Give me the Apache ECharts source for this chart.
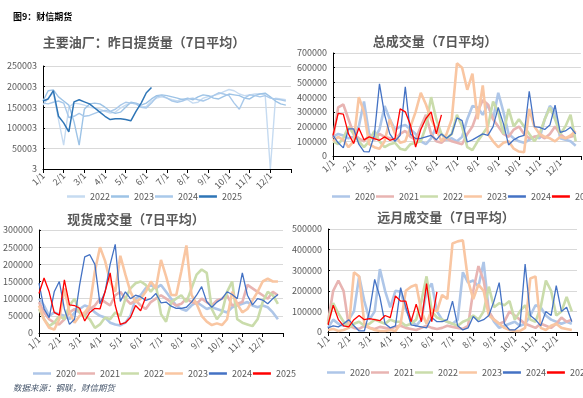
<!DOCTYPE html>
<html>
<head>
<meta charset="utf-8">
<script src="https://cdn.jsdelivr.net/npm/echarts/dist/echarts.min.js"></script>
<style>
  html, body { margin: 0; padding: 0; background: #fff; }
  .pane { position: absolute; left: 0; top: 0; width: 583px; height: 398px; }
</style>
</head>
<body>
<div id="c1" class="pane"></div>
<div id="c2" class="pane"></div>
<div id="c3" class="pane"></div>
<div id="c4" class="pane"></div>
<script>
// 横轴：月份刻度（每月4个点，约一周一个）
var monthLabels = ['1/1','2/1','3/1','4/1','5/1','6/1','7/1','8/1','9/1','10/1','11/1','12/1'];
var stepsPerMonth = 4;

// 主要油厂：昨日提货量（7日平均）
var lift2022 = [155000,172000,185000,120000,58000,150000,160000,158000,155000,150000,148000,145000,140000,136000,138000,148000,155000,160000,158000,150000,152000,165000,172000,175000,172000,168000,165000,170000,168000,160000,162000,172000,176000,178000,182000,188000,193000,190000,182000,178000,180000,182000,183000,180000,0,172000,170000,168000];
var lift2023 = [165000,190000,192000,175000,165000,155000,115000,58000,145000,158000,160000,158000,150000,140000,135000,138000,150000,162000,160000,155000,160000,170000,178000,180000,178000,175000,172000,168000,172000,168000,175000,180000,178000,172000,170000,176000,182000,180000,178000,172000,170000,178000,182000,184000,175000,165000,158000,155000];
var lift2024 = [160000,158000,162000,165000,160000,125000,128000,135000,128000,130000,135000,140000,142000,140000,145000,155000,162000,160000,158000,150000,148000,160000,175000,178000,172000,165000,162000,165000,170000,172000,168000,165000,170000,178000,185000,182000,178000,160000,145000,172000,180000,178000,175000,178000,172000,170000,168000,165000];
var lift2025 = [165000,170000,190000,128000,112000,90000,163000,168000,163000,158000,148000,138000,128000,120000,122000,122000,120000,117000,140000,160000,185000,198000];

// 总成交量（7日平均）
var tot2020 = [130000,150000,140000,120000,130000,200000,370000,150000,120000,180000,340000,250000,180000,200000,210000,180000,150000,100000,80000,120000,200000,150000,110000,120000,100000,130000,250000,340000,330000,280000,350000,250000,430000,300000,150000,120000,100000,90000,110000,130000,120000,250000,340000,300000,120000,110000,100000,70000];
var tot2021 = [120000,330000,350000,250000,150000,120000,100000,140000,110000,150000,130000,120000,110000,150000,170000,130000,110000,200000,280000,150000,100000,90000,120000,100000,90000,80000,150000,200000,300000,380000,350000,250000,200000,150000,130000,180000,200000,150000,120000,130000,140000,120000,150000,200000,150000,120000,130000,140000];
var tot2022 = [100000,80000,120000,200000,150000,100000,60000,100000,170000,100000,60000,80000,90000,50000,40000,80000,90000,100000,200000,400000,250000,150000,120000,150000,280000,200000,60000,40000,100000,150000,200000,370000,300000,150000,320000,200000,250000,200000,150000,100000,150000,250000,330000,250000,150000,200000,280000,100000];
var tot2023 = [100000,130000,110000,60000,100000,400000,300000,80000,60000,50000,100000,250000,150000,90000,100000,200000,300000,430000,350000,250000,180000,100000,150000,250000,630000,600000,450000,560000,250000,480000,150000,100000,60000,90000,100000,50000,30000,25000,320000,200000,150000,130000,120000,100000,130000,120000,140000,170000];
var tot2024 = [140000,90000,55000,185000,185000,80000,30000,28000,140000,490000,280000,150000,100000,140000,470000,150000,118000,120000,130000,140000,110000,150000,120000,150000,260000,240000,95000,110000,130000,150000,140000,200000,330000,220000,75000,110000,130000,140000,440000,200000,195000,180000,210000,345000,160000,170000,195000,150000];
var tot2025 = [140000,290000,285000,150000,85000,190000,110000,130000,118000,107000,130000,107000,118000,320000,300000,210000,60000,180000,255000,300000,150000,280000];

// 现货成交量（7日平均）
var spot2020 = [100000,80000,50000,60000,55000,50000,40000,60000,70000,80000,75000,60000,50000,45000,30000,25000,22000,30000,50000,100000,110000,130000,140000,130000,140000,120000,100000,80000,70000,65000,80000,90000,80000,70000,75000,70000,65000,60000,75000,80000,85000,90000,80000,75000,80000,75000,60000,40000];
var spot2021 = [90000,60000,40000,30000,25000,40000,60000,70000,60000,50000,70000,80000,100000,90000,80000,110000,120000,100000,85000,95000,80000,70000,90000,100000,110000,100000,90000,80000,85000,100000,90000,85000,100000,90000,80000,95000,100000,110000,80000,85000,90000,140000,130000,120000,110000,100000,120000,110000];
var spot2022 = [70000,40000,20000,30000,50000,40000,80000,100000,60000,50000,40000,15000,25000,45000,40000,60000,50000,100000,130000,145000,150000,140000,120000,140000,55000,33000,90000,100000,110000,90000,130000,170000,185000,175000,70000,40000,60000,120000,150000,40000,30000,25000,20000,40000,90000,120000,110000,85000];
var spot2023 = [80000,40000,15000,10000,40000,130000,60000,30000,50000,60000,80000,180000,250000,210000,150000,120000,225000,170000,120000,90000,100000,120000,150000,130000,213000,165000,111000,110000,180000,255000,111000,85000,50000,33000,23000,28000,23000,40000,120000,85000,60000,70000,95000,120000,150000,158000,150000,150000];
var spot2024 = [145000,70000,45000,120000,150000,70000,25000,40000,140000,222000,228000,200000,85000,120000,200000,258000,92000,120000,100000,110000,105000,95000,100000,115000,88000,90000,78000,72000,72000,75000,90000,110000,135000,91000,75000,90000,100000,120000,112000,100000,175000,110000,82000,100000,96000,85000,100000,112000];
var spot2025 = [115000,160000,120000,60000,52000,155000,82000,80000,72000,35000,60000,72000,70000,120000,175000,80000,25000,30000,45000,80000,65000,105000];

// 远月成交量（7日平均）
var far2020 = [20000,60000,40000,30000,60000,100000,270000,150000,60000,100000,305000,200000,120000,200000,195000,110000,60000,30000,60000,200000,235000,100000,60000,50000,40000,60000,290000,240000,250000,220000,340000,100000,50000,20000,30000,40000,50000,30000,40000,80000,130000,120000,80000,60000,50000,40000,50000,40000];
var far2021 = [50000,200000,250000,200000,30000,20000,15000,30000,20000,15000,25000,20000,15000,25000,30000,20000,15000,10000,20000,30000,20000,15000,20000,30000,25000,20000,15000,30000,200000,320000,250000,100000,60000,40000,50000,100000,80000,60000,40000,30000,20000,40000,30000,20000,40000,70000,50000,60000];
var far2022 = [40000,140000,90000,50000,20000,40000,50000,30000,40000,60000,50000,40000,60000,50000,50000,30000,40000,60000,150000,270000,100000,70000,60000,50000,40000,30000,50000,60000,80000,60000,100000,220000,120000,140000,130000,150000,60000,100000,130000,60000,50000,120000,250000,200000,80000,100000,170000,100000];
var far2023 = [10000,15000,5000,10000,20000,290000,270000,40000,20000,10000,5000,5000,10000,5000,40000,200000,220000,230000,100000,40000,110000,100000,180000,160000,430000,440000,445000,250000,160000,230000,200000,80000,60000,40000,20000,10000,5000,5000,20000,260000,270000,20000,10000,30000,40000,20000,15000,10000];
var far2024 = [20000,30000,25000,40000,60000,30000,5000,5000,100000,255000,170000,40000,20000,30000,215000,120000,35000,30000,25000,20000,70000,50000,50000,60000,150000,30000,10000,20000,75000,50000,60000,80000,150000,240000,40000,10000,10000,30000,330000,80000,60000,30000,100000,80000,225000,100000,120000,50000];
var far2025 = [35000,130000,60000,30000,25000,60000,80000,60000,65000,60000,55000,80000,70000,175000,150000,150000,50000,135000,50000,235000,50000,195000];

var font = 'Noto Sans CJK SC';
var grey = '#595959';
var yearColors = {'2020':'#aec6e8','2021':'#e8b4b2','2022':'#cadcab','2023':'#f9c6a2','2024':'#4472c4','2025':'#ff0000'};

function toPoints(vals) {
  return vals.map(function (v, i) { return [i / stepsPerMonth, v]; });
}

function buildPanel(p) {
  var series = p.lines.map(function (l) {
    return {
      name: l.name, type: 'line', symbol: 'none', showSymbol: false, smooth: false,
      data: toPoints(l.data),
      lineStyle: { color: l.color, width: l.width },
      itemStyle: { color: l.color }
    };
  });
  return {
    animation: false,
    textStyle: { fontFamily: font },
    grid: p.grid,
    xAxis: {
      type: 'value', min: 0, max: 12, interval: 1,
      axisLine: { lineStyle: { color: '#000', width: 1 } },
      axisTick: { length: 4, lineStyle: { color: '#000' } },
      splitLine: { show: false },
      axisLabel: {
        rotate: 45, fontSize: 9, color: grey, margin: 5, fontFamily: font,
        formatter: function (v) { return monthLabels[v] || ''; }
      }
    },
    yAxis: {
      type: 'value', min: 0, max: p.yMax, interval: p.yStep,
      axisLine: { show: true, lineStyle: { color: '#000', width: 1 } },
      axisTick: { show: true, inside: true, length: 2, lineStyle: { color: '#000' } },
      splitLine: { lineStyle: { color: '#d9d9d9' } },
      axisLabel: { fontSize: 9, color: grey, margin: 6, fontFamily: font,
                   formatter: p.yFmt || function (v) { return String(v); } }
    },
    legend: {
      left: p.legend[0], top: p.legend[1], width: 420,
      icon: 'rect', itemWidth: 18, itemHeight: 2.5, itemGap: 1,
      textStyle: { fontSize: 9, color: grey, fontFamily: font },
      data: p.lines.map(function (l) { return l.name; })
    },
    graphic: [{
      type: 'text', x: p.title[1], y: p.title[2],
      style: { text: p.title[0], align: 'center', verticalAlign: 'middle',
               font: 'bold 13px "Noto Sans CJK SC"', fill: grey }
    }].concat(p.extra || []),
    series: series
  };
}

function yearLines(names, arrays, colors, widths) {
  return names.map(function (n, i) {
    return { name: n, data: arrays[i], color: colors[i], width: widths[i] };
  });
}

var pastel = 2.6, thin = 1.3;
var years6 = ['2020','2021','2022','2023','2024','2025'];
var colors6 = years6.map(function (y) { return yearColors[y]; });
var widths6 = [pastel, pastel, pastel, pastel, thin, thin];

var panels = [
  {
    el: 'c1', title: ['主要油厂：昨日提货量（7日平均）', 144, 42],
    grid: { left: 43, top: 66, width: 248, height: 103 },
    yMax: 250000, yStep: 50000,
    yFmt: function (v) { return String(v + 3); },
    legend: [62, 187],
    lines: yearLines(['2022','2023','2024','2025'], [lift2022, lift2023, lift2024, lift2025],
      ['#c6dbf1','#9dc3e6','#a9c9ea','#2e75b6'], [1.4, 1.4, 1.4, 1.5]),
    extra: [
      { type: 'text', x: 13, y: 17, style: { text: '图9：财信期货', verticalAlign: 'middle',
        font: 'bold 9px "Noto Sans CJK SC"', fill: '#000' } },
      { type: 'text', x: 13, y: 388, style: { text: '数据来源：钢联，财信期货', verticalAlign: 'middle',
        font: 'italic 8.5px "Noto Sans CJK SC"', fill: '#44546a' } }
    ]
  },
  {
    el: 'c2', title: ['总成交量（7日平均）', 435, 41],
    grid: { left: 333, top: 53, width: 248, height: 103 },
    yMax: 700000, yStep: 100000,
    legend: [327, 187],
    lines: yearLines(years6, [tot2020, tot2021, tot2022, tot2023, tot2024, tot2025], colors6, widths6)
  },
  {
    el: 'c3', title: ['现货成交量（7日平均）', 136, 219],
    grid: { left: 34, top: 230, width: 249, height: 103 },
    yMax: 300000, yStep: 50000,
    legend: [28, 364],
    lines: yearLines(years6, [spot2020, spot2021, spot2022, spot2023, spot2024, spot2025], colors6, widths6)
  },
  {
    el: 'c4', title: ['远月成交量（7日平均）', 446, 217],
    grid: { left: 328, top: 229, width: 249, height: 103 },
    yMax: 500000, yStep: 100000,
    legend: [322, 363],
    lines: yearLines(years6, [far2020, far2021, far2022, far2023, far2024, far2025], colors6, widths6)
  }
];

panels.forEach(function (p) {
  var chart = echarts.init(document.getElementById(p.el));
  chart.setOption(buildPanel(p));
});
</script>
</body>
</html>
